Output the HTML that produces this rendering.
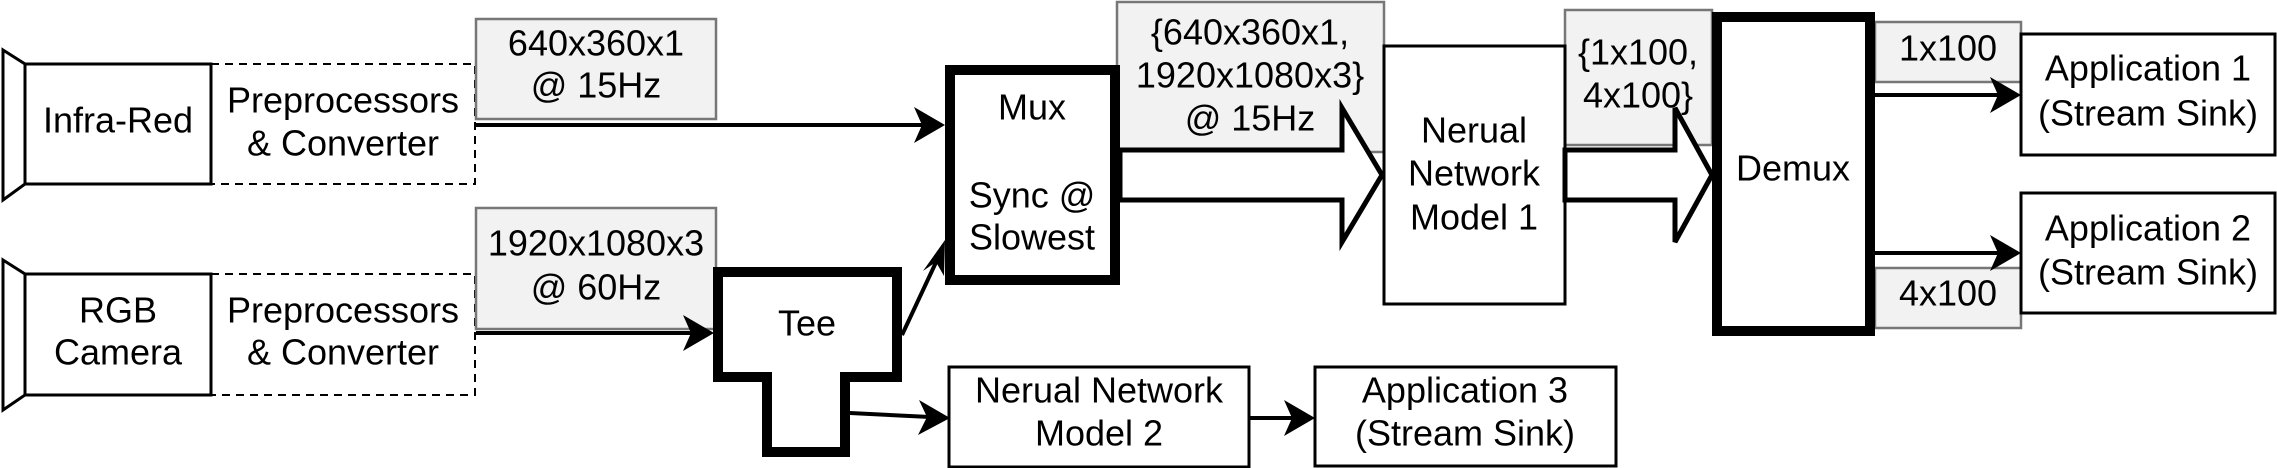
<!DOCTYPE html>
<html><head><meta charset="utf-8"><style>html,body{margin:0;padding:0;background:#fff}svg{display:block}svg text{font-family:"Liberation Sans", Arial, sans-serif;font-size:36px}</style></head><body>
<svg width="2277" height="468" viewBox="0 0 2277 468" xmlns="http://www.w3.org/2000/svg" style="font-family:'Liberation Sans', Arial, sans-serif">
<g fill="none" stroke="#000">
<polygon points="3,50 25,64 25,184 3,200" stroke-width="3"/>
<polygon points="3,260 25,274 25,395 3,410" stroke-width="3"/>
<rect x="25" y="64" width="186" height="120" stroke-width="3" fill="#fff"/>
<rect x="25" y="274" width="186" height="121" stroke-width="3" fill="#fff"/>
<rect x="211" y="64" width="264" height="120" stroke-width="2" stroke-dasharray="8,6"/>
<rect x="211" y="274" width="264" height="121" stroke-width="2" stroke-dasharray="8,6"/>
</g>
<g fill="#f2f2f2" stroke="#777" stroke-width="2.5">
<rect x="476" y="19" width="240" height="100"/>
<rect x="476" y="208" width="240" height="121"/>
<rect x="1117" y="2" width="267" height="150"/>
<rect x="1565" y="10" width="147" height="135"/>
<rect x="1875" y="22" width="146" height="60"/>
<rect x="1875" y="268" width="146" height="60"/>
</g>
<g fill="#fff" stroke="#000">
<rect x="950" y="70" width="165" height="210" stroke-width="10"/>
<polygon points="718,272 897,272 897,377 845,377 845,452 767,452 767,377 718,377" stroke-width="10"/>
<rect x="1384" y="46" width="181" height="258" stroke-width="3"/>
<rect x="1717" y="17" width="153" height="314" stroke-width="10"/>
<rect x="949" y="367" width="300" height="100" stroke-width="3"/>
<rect x="1315" y="367" width="301" height="99" stroke-width="3"/>
<rect x="2021" y="34" width="254" height="121" stroke-width="3"/>
<rect x="2021" y="193" width="254" height="120" stroke-width="3"/>
</g>
<g stroke="#000" stroke-width="4" fill="none">
<line x1="476" y1="125" x2="925" y2="125"/>
<line x1="476" y1="333" x2="695" y2="333"/>
<line x1="902" y1="335" x2="938" y2="258"/>
<line x1="850" y1="413" x2="930" y2="417"/>
<line x1="1249" y1="418" x2="1298" y2="418"/>
<line x1="1875" y1="95" x2="2003" y2="95"/>
<line x1="1875" y1="253" x2="2003" y2="253"/>
</g>
<g fill="#000">
<polygon points="945,125 914,107 922,125 914,143"/>
<polygon points="714,333 683,315 691,333 683,351"/>
<polygon points="945,240 944,276 936,262 923,271"/>
<polygon points="950,418 919,400 927,417 918,435"/>
<polygon points="1315,418 1284,400 1292,418 1284,436"/>
<polygon points="2021,95 1990,77 1998,95 1990,113"/>
<polygon points="2021,253 1990,235 1998,253 1990,271"/>
</g>
<g fill="#fff" stroke="#000" stroke-width="5" stroke-linejoin="miter">
<polygon points="1120,150 1342,150 1342,108 1382,175 1342,242 1342,200 1120,200"/>
<polygon points="1565,150 1675,150 1675,108 1712,175 1675,242 1675,200 1565,200"/>
</g>
<g fill="#000" text-anchor="middle" dominant-baseline="central">
<text x="118" y="120">Infra-Red</text>
<text x="343" y="100">Preprocessors</text>
<text x="343" y="143">&amp; Converter</text>
<text x="596" y="43">640x360x1</text>
<text x="596" y="85">@ 15Hz</text>
<text x="118" y="310">RGB</text>
<text x="118" y="352">Camera</text>
<text x="343" y="310">Preprocessors</text>
<text x="343" y="352">&amp; Converter</text>
<text x="596" y="243">1920x1080x3</text>
<text x="596" y="287">@ 60Hz</text>
<text x="807" y="323">Tee</text>
<text x="1032" y="107">Mux</text>
<text x="1032" y="195">Sync @</text>
<text x="1032" y="237">Slowest</text>
<text x="1099" y="390">Nerual Network</text>
<text x="1099" y="433">Model 2</text>
<text x="1465" y="390">Application 3</text>
<text x="1465" y="433">(Stream Sink)</text>
<text x="1250" y="32">{640x360x1,</text>
<text x="1250" y="75">1920x1080x3}</text>
<text x="1250" y="118">@ 15Hz</text>
<text x="1474" y="130">Nerual</text>
<text x="1474" y="173">Network</text>
<text x="1474" y="217">Model 1</text>
<text x="1638" y="52">{1x100,</text>
<text x="1638" y="95">4x100}</text>
<text x="1793" y="168">Demux</text>
<text x="1948" y="48">1x100</text>
<text x="1948" y="293">4x100</text>
<text x="2148" y="68">Application 1</text>
<text x="2148" y="113">(Stream Sink)</text>
<text x="2148" y="228">Application 2</text>
<text x="2148" y="272">(Stream Sink)</text>
</g>
</svg>
</body></html>
